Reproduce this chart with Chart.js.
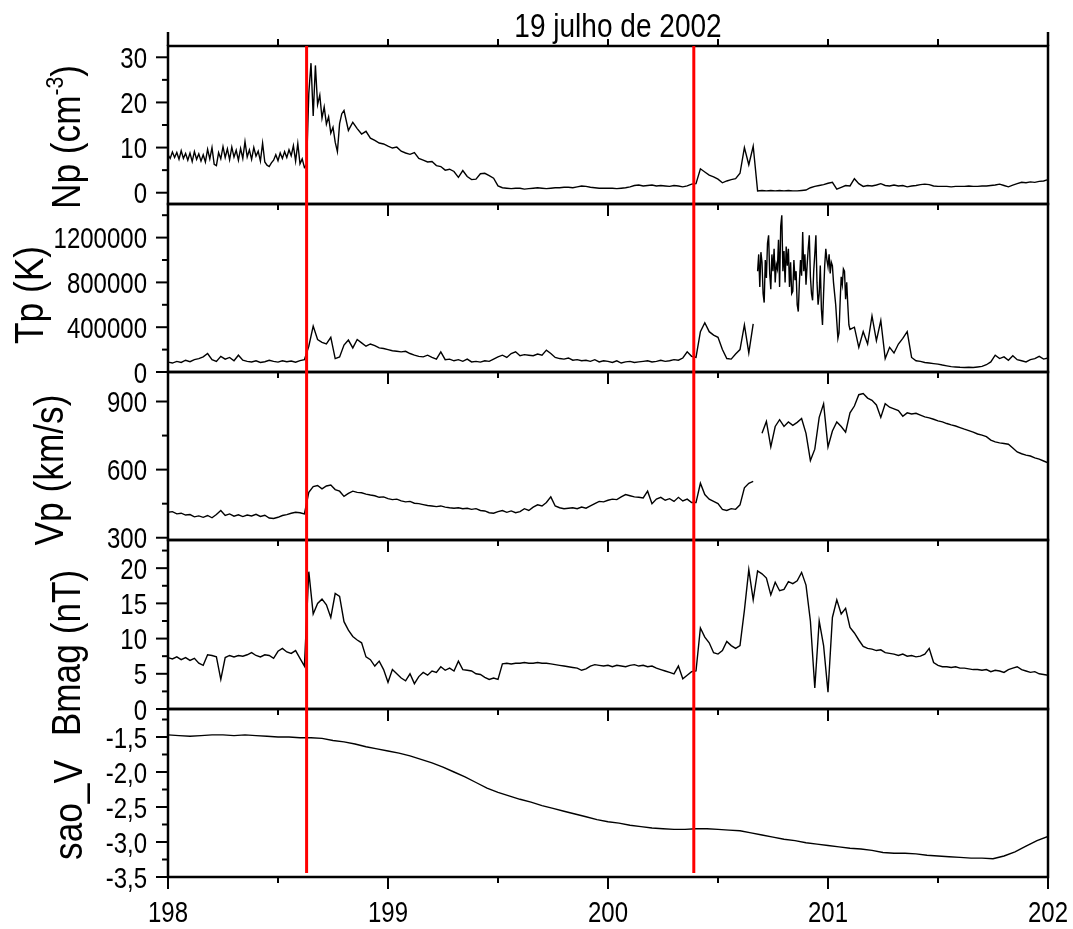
<!DOCTYPE html>
<html>
<head>
<meta charset="utf-8">
<script src="https://cdn.jsdelivr.net/npm/chart.js@4.4.1/dist/chart.umd.min.js"></script>
<style>
html, body { margin: 0; padding: 0; background: #fff; }
#wrap { position: relative; width: 1073px; height: 929px; }
#wrap canvas { position: absolute; left: 0; top: 0; }
</style>
</head>
<body>
<div id="wrap">
  <canvas id="cNp" width="1073" height="929"></canvas>
  <canvas id="cTp" width="1073" height="929"></canvas>
  <canvas id="cVp" width="1073" height="929"></canvas>
  <canvas id="cB" width="1073" height="929"></canvas>
  <canvas id="cSao" width="1073" height="929"></canvas>
</div>
<script>
// sampling: day of year, starting 198.00, every 0.02 day (panels 1-4), every 0.05 day (sao_V)
const startDay = 198;
const fineStep = 0.02;
const coarseStep = 0.05;

const dayTicks = [198, 199, 200, 201, 202];
const halfDayTicks = [198, 198.5, 199, 199.5, 200, 200.5, 201, 201.5, 202];
const shockDays = [198.63, 200.39];

const npTicks = [0, 10, 20, 30];
const npMinor = [5, 15, 25];
const tpTicks = [0, 400000, 800000, 1200000];
const tpMinor = [200000, 600000, 1000000, 1400000];
const vpTicks = [300, 600, 900];
const vpMinor = [450, 750];
const bTicks = [0, 5, 10, 15, 20];
const bMinor = [2.5, 7.5, 12.5, 17.5, 22.5];
const saoTicks = [-3.5, -3, -2.5, -2, -1.5];
const saoMinor = [-3.25, -2.75, -2.25, -1.75, -1.25];

// Np (cm^-3)
const npValues = [
  8.4, 7.9, 8.7, 7.6, 8.5, 7.3, 8.9, 7.5, 8.2, 7.1,
  9.8, 6.4, 9.4, 8.1, 9.6, 7.8, 9.9, 8.3, 10.8, 7.9,
  9.0, 10.4, 7.2, 5.9, 6.8, 7.9, 8.6, 8.0, 9.3, 10.8,
  7.2, 5.6, 27.0, 16.5, 27.8, 20.5, 15.5, 16.8, 11.5, 9.5,
  18.2, 13.8, 15.6, 14.2, 13.0, 13.6, 12.1, 11.6, 11.0, 10.8,
  10.3, 9.9, 10.1, 9.2, 8.8, 8.5, 8.9, 7.6, 7.2, 6.8,
  6.9, 6.0, 5.8, 5.0, 5.2, 4.7, 3.4, 4.9, 3.6, 2.9,
  3.0, 4.2, 4.3, 3.8, 3.2, 1.5, 1.1, 1.0, 0.9, 1.0,
  1.0, 0.8, 0.9, 1.0, 1.1, 1.0, 0.9, 1.0, 1.1, 1.1,
  1.2, 1.2, 1.1, 1.3, 1.5, 1.4, 1.2, 1.1, 1.0, 1.0,
  1.0, 1.0, 0.9, 1.0, 1.1, 1.3, 1.6, 1.7, 1.5, 1.6,
  1.7, 1.5, 1.6, 1.5, 1.4, 1.6, 1.5, 1.3, 1.5, 1.9,
  2.0, 5.3, 4.6, 3.9, 3.5, 3.0, 2.2, 2.6, 2.9, 3.1,
  4.3, 10.0, 6.2, 10.3, 0.4, 0.5, 0.4, 0.5, 0.4, 0.5,
  0.4, 0.5, 0.4, 0.4, 0.5, 0.6, 1.1, 1.4, 1.6, 1.8,
  2.1, 2.3, 0.8, 1.2, 1.6, 1.5, 3.1, 2.0, 1.4, 1.6,
  1.5, 1.7, 2.0, 1.6, 1.5, 1.7, 1.5, 1.6, 1.3, 1.5,
  1.6, 1.8, 1.9, 1.8, 1.5, 1.4, 1.4, 1.4, 1.3, 1.4,
  1.4, 1.4, 1.5, 1.4, 1.4, 1.5, 1.5, 1.6, 1.7, 1.9,
  1.6, 1.3, 1.7, 2.0, 2.3, 2.2, 2.4, 2.3, 2.5, 2.6,
  2.9
];
// Np, denser reading from 198.00 to 198.80 every 0.01 day
const npDetailStart = 198.00;
const npDetailStep = 0.01;
const npDetail = [
  8.4, 7.6, 9.0, 7.8, 8.9, 7.4, 9.3, 7.6, 8.7, 7.2,
  8.8, 6.9, 9.1, 7.4, 8.6, 7.0, 8.4, 6.8, 9.6, 7.5,
  10.0, 6.3, 6.0, 8.9, 7.5, 10.2, 7.8, 9.7, 7.3, 10.1,
  7.9, 9.4, 7.2, 9.8, 7.6, 11.3, 7.9, 9.5, 7.4, 10.0,
  8.1, 9.2, 7.0, 11.0, 6.8, 6.1, 5.8, 6.6, 7.2, 8.4,
  7.1, 8.8, 7.6, 9.1, 7.8, 9.5, 8.2, 10.4, 7.0, 10.9,
  6.4, 7.5, 5.6, 6.2, 22.0, 28.7, 17.0, 28.2, 19.5, 21.6,
  16.5, 19.0, 15.2, 16.8, 13.2, 14.5, 11.2, 9.1, 15.3, 17.5,
  18.2
];

// Tp (K)
const tpValues = [
  88000, 80000, 95000, 85000, 105000, 92000, 110000, 120000, 135000, 165000,
  110000, 95000, 140000, 115000, 130000, 100000, 150000, 105000, 95000, 90000,
  100000, 85000, 92000, 105000, 95000, 88000, 100000, 92000, 98000, 88000,
  102000, 110000, 230000, 410000, 290000, 265000, 250000, 310000, 120000, 135000,
  240000, 285000, 215000, 290000, 260000, 230000, 250000, 235000, 215000, 210000,
  200000, 190000, 185000, 180000, 185000, 165000, 150000, 140000, 135000, 150000,
  130000, 115000, 180000, 110000, 115000, 100000, 110000, 95000, 115000, 90000,
  95000, 88000, 100000, 95000, 115000, 135000, 150000, 130000, 165000, 180000,
  145000, 155000, 150000, 145000, 160000, 150000, 195000, 165000, 130000, 120000,
  115000, 125000, 105000, 110000, 100000, 105000, 95000, 110000, 90000, 100000,
  95000, 85000, 100000, 80000, 90000, 95000, 85000, 90000, 95000, 100000,
  90000, 95000, 105000, 95000, 100000, 110000, 105000, 125000, 180000, 140000,
  130000, 360000, 440000, 360000, 330000, 310000, 200000, 120000, 115000, 160000,
  200000, 420000, 170000, 430000, null, 1050000, 900000, 1200000, 780000, 1100000,
  1350000, 1050000, 720000, 1000000, 560000, 1220000, 800000, 1200000, 640000, 420000,
  1100000, 960000, 720000, 330000, 920000, 650000, 400000, 220000, 360000, 250000,
  500000, 280000, 460000, 120000, 220000, 170000, 250000, 300000, 360000, 130000,
  100000, 95000, 85000, 80000, 75000, 70000, 62000, 55000, 48000, 45000,
  42000, 40000, 42000, 40000, 45000, 50000, 65000, 90000, 150000, 120000,
  135000, 105000, 145000, 110000, 100000, 90000, 110000, 120000, 140000, 115000,
  125000
];
// Tp, denser reading of the hot interval, 200.675 to 201.100 every 0.005 day
const tpDetailStart = 200.675;
const tpDetailStep = 0.005;
const tpDetail = [
  null,
  900000, 1050000, 760000, 1070000, 980000, 700000, 620000, 1000000, 840000, 1150000,
  1220000, 880000, 740000, 1050000, 900000, 1100000, 800000, 960000, 920000, 1180000,
  760000, 1300000, 1400000, 900000, 1080000, 800000, 1120000, 950000, 1100000, 760000,
  980000, 700000, 720000, 1000000, 820000, 900000, 600000, 540000, 800000, 1000000,
  860000, 1250000, 900000, 1050000, 780000, 950000, 1100000, 1220000, 850000, 700000,
  640000, 900000, 1050000, 1220000, 800000, 600000, 700000, 950000, 560000, 420000,
  700000, 950000, 1100000, 1000000, 940000, 1050000, 880000, 980000, 950000, 800000,
  700000, 600000, 450000, 300000, 350000, 620000, 850000, 780000, 920000, 900000,
  650000, 800000, 600000, 420000, 380000
];

// Vp (km/s)
const vpValues = [
  412, 415, 405, 408, 400, 402, 392, 396, 390, 398,
  388, 402, 420, 398, 405, 395, 401, 393, 400, 396,
  403, 394, 399, 387, 385, 390, 398, 402, 408, 412,
  410, 405, 500, 525, 530, 515, 528, 532, 512, 505,
  482, 495, 505, 500, 498, 492, 488, 485, 478, 480,
  472, 468, 470, 462, 458, 460, 452, 450, 446, 442,
  440, 437, 440, 435, 432, 430, 432, 428, 430, 425,
  428, 420, 418, 410, 408, 415, 420, 412, 418, 410,
  415, 428, 420, 435, 445, 440, 455, 480, 440, 432,
  428, 430, 432, 428, 435, 430, 440, 450, 460, 458,
  465, 470, 468, 480, 490, 485, 480, 478, 475, 505,
  450, 470, 478, 465, 472, 460, 478, 462, 470, 455,
  455, 540, 490, 470, 460, 450, 425, 420, 428, 425,
  445, 520, 540, 548, null, 760, 812, 700, 790, 820,
  790, 810, 795, 808, 825, 760, 640, 690, 830, 890,
  700, 770, 810, 790, 765, 850, 880, 930, 935, 915,
  905, 885, 830, 890, 875, 868, 860, 835, 850, 845,
  848, 840, 832, 828, 822, 815, 810, 803, 797, 792,
  785, 778, 772, 765, 757, 752, 745, 730, 722, 718,
  715, 712, 695, 678, 670, 664, 660, 652, 646, 638,
  630
];

// Bmag (nT)
const bmagValues = [
  7.3, 7.1, 7.4, 7.0, 7.3, 6.9, 7.2, 6.5, 6.2, 7.7,
  7.6, 7.4, 4.2, 7.3, 7.6, 7.4, 7.6, 7.5, 7.7, 8.0,
  7.6, 7.4, 7.7, 7.6, 7.2, 8.2, 8.6, 8.1, 7.9, 8.3,
  7.2, 6.1, 19.5, 13.5, 15.0, 15.6, 14.8, 13.0, 16.4, 16.0,
  12.4, 11.2, 10.3, 9.8, 9.4, 7.4, 7.0, 6.1, 6.8, 5.6,
  3.8, 5.6, 5.0, 4.4, 4.0, 5.0, 3.6, 4.6, 5.2, 4.8,
  5.4, 5.2, 6.0, 5.5, 5.8, 5.4, 6.8, 5.6, 5.5, 5.4,
  5.0, 4.9, 4.5, 4.2, 4.4, 4.2, 6.4, 6.5, 6.4, 6.5,
  6.5, 6.6, 6.5, 6.5, 6.6, 6.5, 6.5, 6.4, 6.3, 6.2,
  6.1, 6.0, 5.9, 5.8, 5.5, 5.7, 6.1, 6.3, 6.2, 6.1,
  6.2, 6.0, 6.2, 6.1, 6.0, 6.2, 6.3, 6.1, 6.2, 6.0,
  6.1, 5.8, 5.6, 5.4, 5.2, 5.0, 6.1, 4.3, 4.8, 5.3,
  5.4, 11.5, 10.2, 9.4, 8.0, 7.8, 8.3, 9.6, 9.0, 8.6,
  9.0, 14.0, 19.8, 15.5, 19.6, 19.2, 18.6, 16.2, 18.0, 16.8,
  17.0, 18.1, 17.8, 18.2, 19.4, 17.6, 12.5, 3.0, 12.5, 9.0,
  2.4, 13.0, 15.5, 13.5, 14.3, 11.6, 10.8, 9.8, 8.9, 8.6,
  8.5, 8.3, 8.4, 8.0, 7.9, 7.8, 7.6, 7.8, 7.5, 7.6,
  7.4, 7.5, 7.8, 8.6, 6.6, 6.2, 6.0, 6.0, 5.9, 6.0,
  5.8, 5.8, 5.7, 5.6, 5.6, 5.5, 5.6, 5.3, 5.5, 5.4,
  5.2, 5.6, 5.8, 6.0, 5.6, 5.4, 5.2, 5.3, 5.0, 4.9,
  4.8
];

// sao_V
const saoValues = [
  -1.47, -1.48, -1.49, -1.48, -1.47, -1.47, -1.48, -1.47, -1.48, -1.49,
  -1.50, -1.50, -1.51, -1.51, -1.52, -1.55, -1.57, -1.60, -1.64, -1.67,
  -1.70, -1.73, -1.77, -1.82, -1.87, -1.93, -2.00, -2.07, -2.15, -2.23,
  -2.29, -2.34, -2.39, -2.43, -2.48, -2.52, -2.56, -2.60, -2.64, -2.68,
  -2.71, -2.73, -2.76, -2.78, -2.80, -2.81, -2.82, -2.82, -2.81, -2.81,
  -2.82, -2.83, -2.84, -2.87, -2.90, -2.93, -2.96, -2.98, -3.01, -3.03,
  -3.05, -3.07, -3.09, -3.10, -3.12, -3.15, -3.16, -3.16, -3.17, -3.19,
  -3.20, -3.21, -3.22, -3.23, -3.23, -3.24, -3.20, -3.14, -3.06, -2.98,
  -2.92
];

const FONT = "'Liberation Sans', Arial, sans-serif";
const W = 1073, H = 929;

function toPoints(values, start, step) {
  return values.map((v, i) => ({ x: +(start + i * step).toFixed(3), y: v }));
}

// replace the coarse samples inside the detail interval by the denser reading
function withDetail(values, detail, dStart, dStep) {
  const coarse = toPoints(values, startDay, fineStep);
  if (!detail) return coarse;
  const fine = toPoints(detail, dStart, dStep);
  const lo = fine[0].x, hi = fine[fine.length - 1].x;
  return coarse.filter(p => p.x < lo || p.x > hi).concat(fine).sort((a, b) => a.x - b.x);
}

function line(ctx, x1, y1, x2, y2) {
  ctx.beginPath();
  ctx.moveTo(x1, y1);
  ctx.lineTo(x2, y2);
  ctx.stroke();
}

// narrow text: the original uses a condensed face, so squeeze horizontally
function narrowText(ctx, text, x, y, size, align, sx) {
  ctx.save();
  ctx.font = size + 'px ' + FONT;
  ctx.textBaseline = 'alphabetic';
  const w = ctx.measureText(text).width * sx;
  let x0 = x;
  if (align === 'center') x0 = x - w / 2;
  if (align === 'right') x0 = x - w;
  ctx.translate(x0, y);
  ctx.scale(sx, 1);
  ctx.textAlign = 'left';
  ctx.fillText(text, 0, 0);
  ctx.restore();
}

// frame, tick marks, tick labels, side label, title, shock lines
const decor = {
  id: 'decor',
  afterDraw(chart, args, opts) {
    const { ctx, chartArea: a } = chart;
    const x = chart.scales.x, y = chart.scales.y;
    ctx.save();
    ctx.strokeStyle = '#000';
    ctx.fillStyle = '#000';
    ctx.lineWidth = 2.5;
    ctx.strokeRect(a.left, a.top, a.right - a.left, a.bottom - a.top);

    ctx.lineWidth = 2;
    y.ticks.forEach(t => {
      const py = y.getPixelForValue(t.value);
      line(ctx, a.left - 12, py, a.left, py);
      narrowText(ctx, opts.fmt(t.value), 147, py + 10.5, 30, 'right', 0.8);
    });
    opts.minor.forEach(v => {
      const py = y.getPixelForValue(v);
      line(ctx, a.left - 6, py, a.left, py);
    });
    halfDayTicks.forEach(v => {
      const px = x.getPixelForValue(v);
      const len = Number.isInteger(v) ? 12 : 6;
      line(ctx, px, a.bottom, px, a.bottom + len);
    });

    if (opts.last) {
      x.ticks.forEach(t => {
        const px = x.getPixelForValue(t.value);
        narrowText(ctx, String(t.value), px, a.bottom + 45, 30, 'center', 0.8);
      });
    }

    if (opts.first) {
      halfDayTicks.forEach(v => {
        if (v === 198 || v === 202) return;
        const px = x.getPixelForValue(v);
        line(ctx, px, a.top - 7, px, a.top);
      });
      ctx.lineWidth = 2.5;
      line(ctx, a.left, a.top - 14, a.left, a.top);
      line(ctx, a.right, a.top - 14, a.right, a.top);
      narrowText(ctx, '19 julho de 2002', 618, 37, 33, 'center', 0.85);
    }

    // rotated axis title, reading bottom to top
    const lab = opts.label;
    const size = 41, sx = 0.86;
    ctx.save();
    ctx.translate(lab.bx, lab.cy);
    ctx.rotate(-Math.PI / 2);
    ctx.scale(sx, 1);
    ctx.textAlign = 'left';
    ctx.textBaseline = 'alphabetic';
    let total = 0;
    const widths = lab.parts.map(p => {
      ctx.font = (p.sup ? size * 0.6 : size) + 'px ' + FONT;
      const w = ctx.measureText(p.t).width;
      total += w;
      return w;
    });
    let cur = -total / 2;
    lab.parts.forEach((p, i) => {
      ctx.font = (p.sup ? size * 0.6 : size) + 'px ' + FONT;
      ctx.fillText(p.t, cur, p.sup ? -size * 0.42 : 0);
      cur += widths[i];
    });
    ctx.restore();

    if (opts.last) {
      ctx.strokeStyle = '#ff0000';
      ctx.lineWidth = 3;
      shockDays.forEach(d => {
        const px = x.getPixelForValue(d);
        line(ctx, px, 46, px, 873);
      });
    }
    ctx.restore();
  }
};

function makePanel(p) {
  const pts = p.step === coarseStep
    ? toPoints(p.values, startDay, coarseStep)
    : withDetail(p.values, p.detail, p.dStart, p.dStep);
  return new Chart(document.getElementById(p.id), {
    type: 'line',
    data: {
      datasets: [{
        data: pts,
        borderColor: '#000',
        borderWidth: 1.4,
        pointRadius: 0,
        tension: 0,
        spanGaps: false
      }]
    },
    options: {
      responsive: false,
      animation: false,
      events: [],
      layout: { padding: { left: 0, right: W - 1048, top: p.top, bottom: p.last ? 0 : H - p.bottom } },
      plugins: {
        legend: { display: false },
        tooltip: { enabled: false },
        decor: { minor: p.minor, label: p.label, first: !!p.first, last: !!p.last, fmt: p.fmt }
      },
      scales: {
        x: {
          type: 'linear', min: 198, max: 202, display: !!p.last,
          grid: { display: false, drawTicks: false }, border: { display: false },
          ticks: { display: false },
          afterBuildTicks: s => { s.ticks = dayTicks.map(v => ({ value: v })); },
          afterFit: s => { s.height = p.last ? 52 : 0; }
        },
        y: {
          type: 'linear', position: 'left', min: p.min, max: p.max,
          grid: { display: false, drawTicks: false }, border: { display: false },
          ticks: { display: false },
          afterBuildTicks: s => { s.ticks = p.ticks.map(v => ({ value: v })); },
          afterFit: s => { s.width = 168; }
        }
      }
    },
    plugins: [decor]
  });
}

const plain = v => String(v);
const comma = v => v.toFixed(1).replace('.', ',');

makePanel({ id: 'cNp', values: npValues, step: fineStep, detail: npDetail, dStart: npDetailStart, dStep: npDetailStep,
  min: -2.5, max: 32.5, ticks: npTicks, minor: npMinor,
  top: 46, bottom: 204, first: true, fmt: plain,
  label: { bx: 80, cy: 137, parts: [{ t: 'Np (cm' }, { t: '-3', sup: true }, { t: ')' }] } });
makePanel({ id: 'cTp', values: tpValues, step: fineStep, detail: tpDetail, dStart: tpDetailStart, dStep: tpDetailStep,
  min: 0, max: 1500000, ticks: tpTicks, minor: tpMinor,
  top: 204, bottom: 372, fmt: plain,
  label: { bx: 43, cy: 295, parts: [{ t: 'Tp (K)' }] } });
makePanel({ id: 'cVp', values: vpValues, step: fineStep, min: 290, max: 1030, ticks: vpTicks, minor: vpMinor,
  top: 372, bottom: 540, fmt: plain,
  label: { bx: 63, cy: 470, parts: [{ t: 'Vp (km/s)' }] } });
makePanel({ id: 'cB', values: bmagValues, step: fineStep, min: 0, max: 24, ticks: bTicks, minor: bMinor,
  top: 540, bottom: 709, fmt: plain,
  label: { bx: 80, cy: 653, parts: [{ t: 'Bmag (nT)' }] } });
makePanel({ id: 'cSao', values: saoValues, step: coarseStep, min: -3.5, max: -1.1, ticks: saoTicks, minor: saoMinor,
  top: 709, bottom: 877, last: true, fmt: comma,
  label: { bx: 82, cy: 810, parts: [{ t: 'sao_V' }] } });
</script>
</body>
</html>
